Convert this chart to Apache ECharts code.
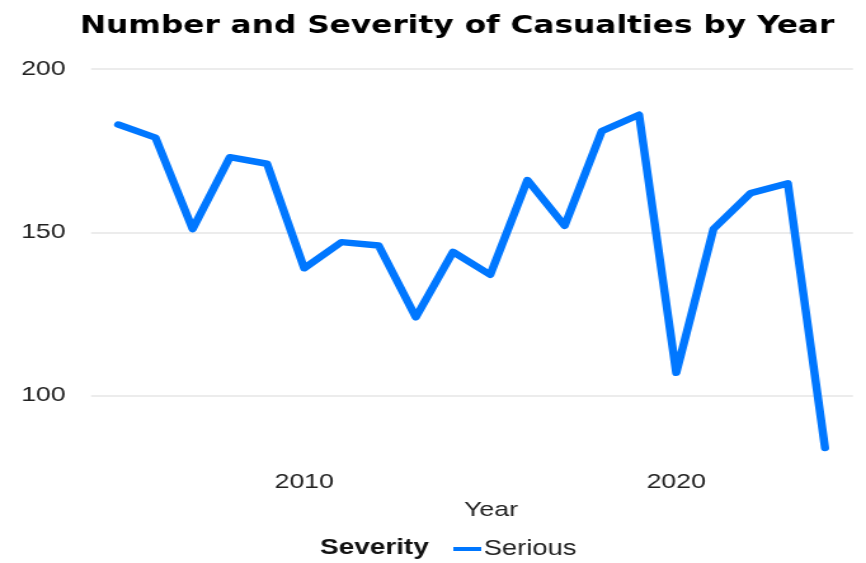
<!DOCTYPE html>
<html>
<head>
<meta charset="utf-8">
<script src="https://cdn.jsdelivr.net/npm/echarts@6/dist/echarts.min.js"></script>
<style>
  html, body { margin: 0; padding: 0; background: #fff; overflow: hidden; }
  #wrap { width: 866px; height: 563px; overflow: hidden; }
  /* the chart is laid out narrow and widened horizontally */
  #chart { width: 682px; height: 563px; transform: scaleX(1.2698); transform-origin: 0 0; }
</style>
</head>
<body>
<div id="wrap"><div id="chart"></div></div>
<script>
// Serious casualties per year
const years = [2005, 2006, 2007, 2008, 2009, 2010, 2011, 2012, 2013, 2014,
               2015, 2016, 2017, 2018, 2019, 2020, 2021, 2022, 2023, 2024];
const serious = [183, 179, 151, 173, 171, 139, 147, 146, 124, 144,
                 137, 166, 152, 181, 186, 107, 151, 162, 165, 84];
const xTickLabels = [2010, 2020];
const yTickLabels = [100, 150, 200];

const FONT = '"Liberation Sans", Arial, sans-serif';
const chart = echarts.init(document.getElementById('chart'), null, { renderer: 'canvas' });

chart.setOption({
  animation: false,
  backgroundColor: '#ffffff',
  title: {
    text: 'Number and Severity of Casualties by Year',
    left: 355,
    textAlign: 'center',
    top: 9,
    textStyle: { fontFamily: '"DejaVu Sans", sans-serif', fontWeight: 'bold', fontSize: 24.6, color: '#000' }
  },
  graphic: [{
    type: 'text',
    left: 252,
    top: 537,
    style: { text: 'Severity', font: 'bold 22px ' + FONT, fill: '#111' }
  }],
  legend: {
    left: 357,
    top: 538,
    padding: 0,
    itemWidth: 22,
    itemHeight: 4,
    itemGap: 10,
    icon: 'rect',
    textStyle: { fontFamily: FONT, fontSize: 21.5, color: '#222', padding: [0, 0, 0, -3] },
    data: ['Serious']
  },
  grid: { left: 71.7, right: 10.3, top: 69, bottom: 102, containLabel: false },
  xAxis: {
    type: 'value',
    min: 2004.27,
    max: 2024.75,
    splitNumber: 2,
    name: 'Year',
    nameLocation: 'middle',
    nameGap: 39,
    nameTextStyle: { fontFamily: FONT, fontSize: 21, color: '#222', padding: [0, 0, 0, 30] },
    axisLine: { show: false },
    axisTick: { show: false },
    splitLine: { show: false },
    axisLabel: {
      margin: 11,
      fontFamily: FONT, fontSize: 21, color: '#222',
      showMinLabel: true, showMaxLabel: true,
      formatter: v => (xTickLabels.indexOf(Math.round(v * 100) / 100) >= 0 ? String(v) : '')
    }
  },
  yAxis: {
    type: 'value',
    min: 80,
    max: 200,
    splitNumber: 2,
    axisLine: { show: false },
    axisTick: { show: false },
    splitLine: { show: true, showMinLine: false, lineStyle: { color: '#e6e6e6', width: 1.5 } },
    axisLabel: {
      margin: 20,
      fontFamily: FONT, fontSize: 21, color: '#222',
      formatter: v => (yTickLabels.indexOf(v) >= 0 ? String(v) : '')
    }
  },
  series: [{
    name: 'Serious',
    type: 'line',
    data: years.map((y, i) => [y, serious[i]]),
    showSymbol: false,
    symbol: 'none',
    color: '#0077ff',
    lineStyle: { width: 6.5, color: '#0077ff', join: 'round', cap: 'round' }
  }]
});
</script>
</body>
</html>
